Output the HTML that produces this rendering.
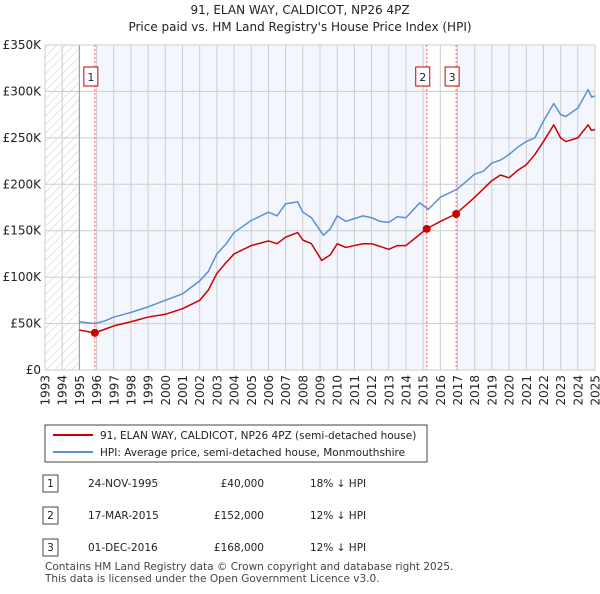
<!DOCTYPE html>
<html><head><meta charset="utf-8"><style>
body{margin:0;background:#fff;font-family:"DejaVu Sans","Liberation Sans",sans-serif;}
svg text{font-family:"DejaVu Sans","Liberation Sans",sans-serif;}
</style></head><body>
<svg id="c" width="600" height="590" xmlns="http://www.w3.org/2000/svg">
<text x="300" y="14" text-anchor="middle" font-size="12" fill="#222">91, ELAN WAY, CALDICOT, NP26 4PZ</text>
<text x="300" y="31" text-anchor="middle" font-size="12" fill="#222">Price paid vs. HM Land Registry's House Price Index (HPI)</text>
<defs><pattern id="h" width="6" height="6" patternUnits="userSpaceOnUse" patternTransform="rotate(45)"><line x1="0" y1="0" x2="0" y2="6" stroke="#ccc" stroke-width="1"/></pattern></defs>
<g id="plot"></g>
<g>
<rect x="45" y="425" width="382" height="37" fill="#fff" stroke="#444"/>
<line x1="53" y1="435" x2="93" y2="435" stroke="#cc0000" stroke-width="2"/>
<text x="100" y="439" font-size="10.5" fill="#222">91, ELAN WAY, CALDICOT, NP26 4PZ (semi-detached house)</text>
<line x1="53" y1="452" x2="93" y2="452" stroke="#5b8fd6" stroke-width="2"/>
<text x="100" y="456" font-size="10.5" fill="#222">HPI: Average price, semi-detached house, Monmouthshire</text>
</g>
<g font-size="10.5" fill="#222">
<rect x="43" y="475" width="15" height="17" fill="#fff" stroke="#444"/><text x="50.5" y="487" text-anchor="middle">1</text>
<text x="88" y="487">24-NOV-1995</text><text x="264" y="487" text-anchor="end">£40,000</text><text x="310" y="487">18% ↓ HPI</text>
<rect x="43" y="507" width="15" height="17" fill="#fff" stroke="#444"/><text x="50.5" y="519" text-anchor="middle">2</text>
<text x="88" y="519">17-MAR-2015</text><text x="264" y="519" text-anchor="end">£152,000</text><text x="310" y="519">12% ↓ HPI</text>
<rect x="43" y="539" width="15" height="17" fill="#fff" stroke="#444"/><text x="50.5" y="551" text-anchor="middle">3</text>
<text x="88" y="551">01-DEC-2016</text><text x="264" y="551" text-anchor="end">£168,000</text><text x="310" y="551">12% ↓ HPI</text>
</g>
<text x="45" y="570" font-size="10.5" fill="#444">Contains HM Land Registry data © Crown copyright and database right 2025.</text>
<text x="45" y="582" font-size="10.5" fill="#444">This data is licensed under the Open Government Licence v3.0.</text>
</svg>
<script>
const hpiYears=[1995,1995.9,1996.5,1997,1998,1999,2000,2001,2002,2002.5,2003,2003.5,2004,2005,2006,2006.5,2007,2007.7,2008,2008.5,2009.2,2009.6,2010,2010.5,2011,2011.5,2012,2012.5,2013,2013.5,2014,2014.8,2015.3,2016,2017,2018,2018.5,2019,2019.5,2020,2020.5,2021,2021.5,2022,2022.6,2023,2023.3,2024,2024.6,2024.8,2025];
const hpiValues=[52,50,53,57,62,68,75,82,96,106,125,135,148,161,170,166,179,181,170,164,145,152,166,160,163,166,164,160,159,165,164,180,173,186,195,211,214,223,226,232,240,246,250,268,287,275,273,282,302,294,295];
const ppYears=[1995,1995.9,1996.5,1997,1998,1999,2000,2001,2002,2002.5,2003,2003.5,2004,2005,2006,2006.5,2007,2007.7,2008,2008.5,2009.1,2009.6,2010,2010.5,2011,2011.5,2012,2012.5,2013,2013.5,2014,2015.2,2016,2016.9,2018,2019,2019.5,2020,2020.5,2021,2021.5,2022,2022.6,2023,2023.3,2024,2024.6,2024.8,2025];
const ppValues=[43,40,44,47.5,52,57,60,66,75,86,104,115,125,134,139,136,143,148,140,136,118,124,136,132,134,136,136,133,130,134,134,152,160,168,186,204,210,207,215,221,232,246,264,250,246,250,264,258,259];
const saleYears=[1995.9,2015.21,2016.92];
const saleValues=[40,152,168];
const saleLabels=['1','2','3'];
const yTicks=[0,50,100,150,200,250,300,350];
const yTickLabels=['£0','£50K','£100K','£150K','£200K','£250K','£300K','£350K'];
const x0=45,x1=595,y0=370,y1=45,yr0=1993,yr1=2025,vmax=350;
const X=t=>x0+(t-yr0)/(yr1-yr0)*(x1-x0);
const Y=v=>y0-v/vmax*(y0-y1);
const g=document.getElementById('plot');
const NS='http://www.w3.org/2000/svg';
function mk(tag,at,parent){const e=document.createElementNS(NS,tag);for(const k in at)e.setAttribute(k,at[k]);(parent||g).appendChild(e);return e;}
let r=mk('rect',{x:X(yr0),y:y1,width:X(1995)-X(yr0),height:y0-y1,fill:'url(#h)'});


r=mk('rect',{x:X(saleYears[0]),y:y1,width:X(saleYears[1])-X(saleYears[0]),height:y0-y1,fill:'#f3f7fd'});


r=mk('rect',{x:X(saleYears[2]),y:y1,width:X(yr1)-X(saleYears[2]),height:y0-y1,fill:'#f3f7fd'});


for(let yr=yr0;yr<=yr1;yr++){
 mk('line',{x1:X(yr),x2:X(yr),y1:y1,y2:y0,stroke:'#ccc','stroke-width':1});
 const tx=X(yr)+4.5,ty=y0+5;
 const t=mk('text',{x:tx,y:ty,'text-anchor':'end','font-size':12,fill:'#222',transform:'rotate(-90 '+tx+' '+ty+')'});
 t.textContent=yr;
 
 
}
yTicks.forEach((v,i)=>{
 mk('line',{x1:x0,x2:x1,y1:Y(v),y2:Y(v),stroke:'#ccc','stroke-width':1});
 const t=mk('text',{x:x0-4,y:Y(v)+4,'text-anchor':'end','font-size':12,fill:'#222'});
 t.textContent=yTickLabels[i];
 
 
});
mk('line',{x1:X(1995),x2:X(1995),y1:y1,y2:y0,stroke:'#999','stroke-width':1});
mk('rect',{x:x0,y:y1,width:x1-x0,height:y0-y1,fill:'none',stroke:'#ccc'});
saleYears.forEach((s,i)=>{
 const l=mk('line',{x1:X(s),x2:X(s),y1:y1,y2:y0,stroke:'#e66','stroke-width':1,'stroke-dasharray':'2,2'});
 
 
 const bx=X(s)-11;
 mk('rect',{x:bx,y:67,width:14,height:19,fill:'#fff',stroke:'#cc0000'});
 const t=mk('text',{x:bx+7,y:81,'text-anchor':'middle','font-size':11,fill:'#222'});
 t.textContent=saleLabels[i];
 
 
});
function line(xs,vs,col,name){
 const p=mk('polyline',{points:xs.map((t,i)=>X(t)+','+Y(vs[i])).join(' '),fill:'none',stroke:col,'stroke-width':1.5,'stroke-linejoin':'round'});
 
 
}
line(hpiYears,hpiValues,'#5b8fd6','hpi-line');
line(ppYears,ppValues,'#cc0000','price-paid-line');
saleYears.forEach((s,i)=>{
 const c=mk('circle',{cx:X(s),cy:Y(saleValues[i]),r:4,fill:'#cc0000'});
 
 
});
</script>
</body></html>
